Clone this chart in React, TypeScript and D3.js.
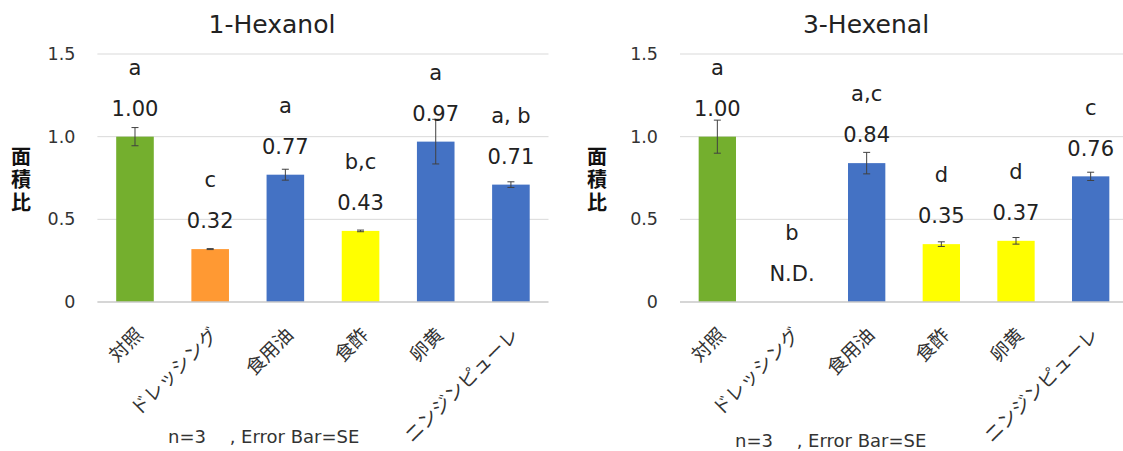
import React from "react";
import * as d3 from "d3";

const categories = ["対照", "ドレッシング", "食用油", "食酢", "卵黄", "ニンジンピューレ"];
const barColors = ["#74AF2E", "#FF9933", "#4472C4", "#FFFF00", "#4472C4", "#4472C4"];
const barColors2 = ["#74AF2E", "#FF9933", "#4472C4", "#FFFF00", "#FFFF00", "#4472C4"];

const hexanolValues = [1.0, 0.32, 0.77, 0.43, 0.97, 0.71];
const hexanolErrors = [0.055, 0.003, 0.033, 0.005, 0.135, 0.017];
const hexanolLetters = ["a", "c", "a", "b,c", "a", "a, b"];

const hexenalValues: (number | null)[] = [1.0, null, 0.84, 0.35, 0.37, 0.76];
const hexenalErrors = [0.1, 0, 0.065, 0.014, 0.02, 0.025];
const hexenalLetters = ["a", "b", "a,c", "d", "d", "c"];

const yTicks = [0, 0.5, 1.0, 1.5];
const yTickLabels = ["0", "0.5", "1.0", "1.5"];
const yTitle = "面積比";
const noteText = "n=3\u3000 , Error Bar=SE";

const LATIN = "'DejaVu Sans', Verdana, sans-serif";
const JP = "'Noto Sans CJK JP', 'DejaVu Sans', sans-serif";

type PanelProps = {
  title: string;
  titleX: number;
  x0: number;
  x1: number;
  yTitleX: number;
  noteX: number;
  noteY: number;
  values: (number | null)[];
  errors: number[];
  letters: string[];
  colors: string[];
};

function Panel(p: PanelProps) {
  const x = d3.scaleBand<string>().domain(categories).range([p.x0, p.x1]).paddingInner(0.5).paddingOuter(0.25);
  const y = d3.scaleLinear().domain([0, 1.5]).range([302, 54]);
  const bw = x.bandwidth();
  return (
    <g>
      <text x={p.titleX} y={33} textAnchor="middle" fontFamily={LATIN} fontSize={25} fill="#222">
        {p.title}
      </text>
      {yTicks.map((t, i) => (
        <g key={t}>
          {t > 0 && (
            <line x1={p.x0} x2={p.x1} y1={y(t)} y2={y(t)} stroke="#D9D9D9" strokeWidth={1} />
          )}
          <text x={p.x0 - 22} y={y(t)} dy="0.35em" textAnchor="end" fontFamily={LATIN} fontSize={17.5} fill="#333">
            {yTickLabels[i]}
          </text>
        </g>
      ))}
      {categories.map((c, i) => {
        const v = p.values[i];
        const bx = x(c)!;
        const cx = bx + bw / 2;
        const top = v == null ? y(0) : y(v);
        const labelY = top - 28;
        return (
          <g key={c}>
            {v != null && (
              <rect x={bx} y={top} width={bw} height={y(0) - top} fill={p.colors[i]} />
            )}
            {v != null && p.errors[i] > 0 && (
              <g stroke="#404040" strokeWidth={1}>
                <line x1={cx} x2={cx} y1={y(v + p.errors[i])} y2={y(v - p.errors[i])} />
                <line x1={cx - 3.5} x2={cx + 3.5} y1={y(v + p.errors[i])} y2={y(v + p.errors[i])} />
                <line x1={cx - 3.5} x2={cx + 3.5} y1={y(v - p.errors[i])} y2={y(v - p.errors[i])} />
              </g>
            )}
            <text x={cx} y={labelY} dy="0.35em" textAnchor="middle" fontFamily={LATIN} fontSize={21} fill="#222">
              {v == null ? "N.D." : v.toFixed(2)}
            </text>
            <text x={cx} y={labelY - 41} dy="0.35em" textAnchor="middle" fontFamily={LATIN} fontSize={21} fill="#222">
              {p.letters[i]}
            </text>
            <text
              x={cx + 3}
              y={330}
              textAnchor="end"
              dominantBaseline="central"
              transform={`rotate(-45 ${cx + 3} 330)`}
              fontFamily={JP}
              fontSize={19}
              fill="#333"
            >
              {c}
            </text>
          </g>
        );
      })}
      <line x1={p.x0} x2={p.x1} y1={y(0)} y2={y(0)} stroke="#C8C8C8" strokeWidth={1.5} />
      <text
        x={p.yTitleX}
        y={146}
        fontFamily={JP}
        fontWeight="bold"
        fontSize={20}
        fill="#111"
        style={{ writingMode: "vertical-rl", textOrientation: "upright", letterSpacing: "3px" }}
      >
        {yTitle}
      </text>
      <text x={p.noteX} y={p.noteY} dy="0.35em" fontFamily={LATIN} fontSize={18} fill="#333" style={{ whiteSpace: "pre" }}>
        {noteText}
      </text>
    </g>
  );
}

export default function App() {
  return (
    <svg width={1123} height={451} style={{ position: "fixed", left: 0, top: 0, background: "#fff" }}>
      <rect width={1123} height={451} fill="#fff" />
      <Panel
        title="1-Hexanol"
        titleX={272}
        x0={97.4}
        x1={548.5}
        yTitleX={21}
        noteX={168}
        noteY={437}
        values={hexanolValues}
        errors={hexanolErrors}
        letters={hexanolLetters}
        colors={barColors}
      />
      <Panel
        title="3-Hexenal"
        titleX={866}
        x0={680}
        x1={1128}
        yTitleX={597}
        noteX={735}
        noteY={441}
        values={hexenalValues}
        errors={hexenalErrors}
        letters={hexenalLetters}
        colors={barColors2}
      />
    </svg>
  );
}
